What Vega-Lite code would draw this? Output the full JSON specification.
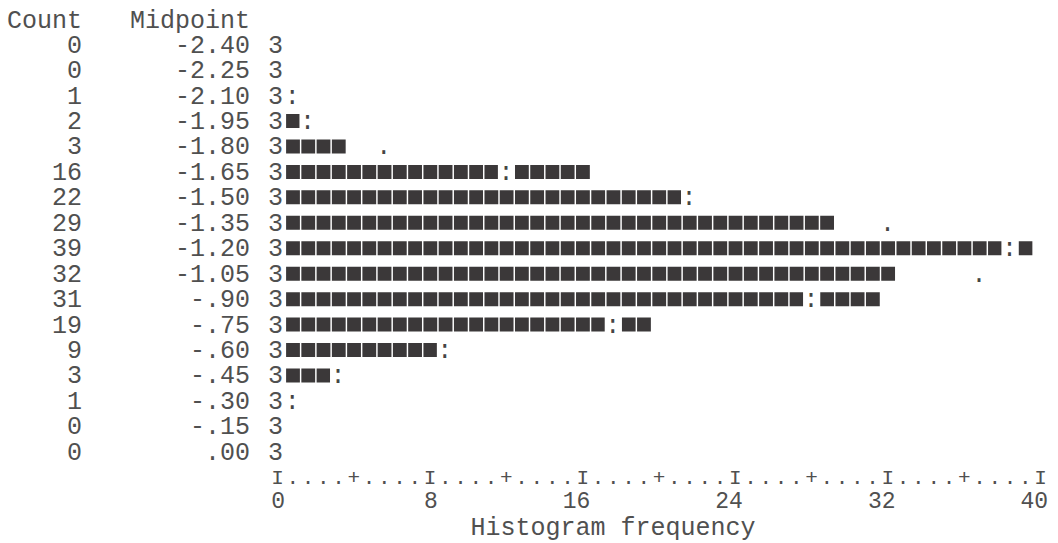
{
  "$schema": "https://vega.github.io/schema/vega-lite/v6.json",
  "background": "white",
  "padding": {"left": 0, "top": 7, "right": 0, "bottom": 6},
  "bounds": "flush",
  "spacing": 27,
  "config": {
    "view": {"stroke": null},
    "text": {"font": "Liberation Mono", "fontSize": 25},
    "axis": {"labelFont": "Liberation Mono", "labelFontSize": 25, "titleFont": "Liberation Mono", "titleFontSize": 25, "titleFontWeight": "normal", "labelColor": "#505050", "titleColor": "#505050", "grid": false, "domain": false, "ticks": false, "tickSize": 0}
  },
  "data": {
    "values": [
      {"Midpoint": "-2.40", "Count": 0, "length": 0, "normal": null, "marker": null},
      {"Midpoint": "-2.25", "Count": 0, "length": 0, "normal": null, "marker": null},
      {"Midpoint": "-2.10", "Count": 1, "length": 0.8, "normal": 0.8, "marker": ":"},
      {"Midpoint": "-1.95", "Count": 2, "length": 1.6, "normal": 1.6, "marker": ":"},
      {"Midpoint": "-1.80", "Count": 3, "length": 3.2, "normal": 5.6, "marker": "."},
      {"Midpoint": "-1.65", "Count": 16, "length": 16, "normal": 12, "marker": ":"},
      {"Midpoint": "-1.50", "Count": 22, "length": 21.6, "normal": 21.6, "marker": ":"},
      {"Midpoint": "-1.35", "Count": 29, "length": 28.8, "normal": 32, "marker": "."},
      {"Midpoint": "-1.20", "Count": 39, "length": 39.2, "normal": 38.4, "marker": ":"},
      {"Midpoint": "-1.05", "Count": 32, "length": 32, "normal": 36.8, "marker": "."},
      {"Midpoint": "-.90", "Count": 31, "length": 31.2, "normal": 28, "marker": ":"},
      {"Midpoint": "-.75", "Count": 19, "length": 19.2, "normal": 17.6, "marker": ":"},
      {"Midpoint": "-.60", "Count": 9, "length": 8.8, "normal": 8.8, "marker": ":"},
      {"Midpoint": "-.45", "Count": 3, "length": 3.2, "normal": 3.2, "marker": ":"},
      {"Midpoint": "-.30", "Count": 1, "length": 0.8, "normal": 0.8, "marker": ":"},
      {"Midpoint": "-.15", "Count": 0, "length": 0, "normal": null, "marker": null},
      {"Midpoint": ".00", "Count": 0, "length": 0, "normal": null, "marker": null}
    ]
  },
  "hconcat": [
    {
      "width": 250,
      "height": 432.5,
      "transform": [{"fold": ["Count", "Midpoint"], "as": ["column", "val"]}],
      "mark": {"type": "text", "align": "right", "baseline": "middle", "color": "#505050"},
      "encoding": {
        "x": {
          "field": "column", "type": "nominal", "bandPosition": 1,
          "scale": {"type": "band", "paddingInner": 0.512, "paddingOuter": 0},
          "axis": {"orient": "top", "title": null, "labelAngle": 0, "labelAlign": "right", "labelBaseline": "middle", "labelOffset": 41, "labelPadding": 13}
        },
        "y": {"field": "Midpoint", "type": "ordinal", "sort": null, "axis": null, "scale": {"type": "band", "paddingInner": 0, "paddingOuter": 0}},
        "text": {"field": "val", "type": "nominal"}
      }
    },
    {
      "width": 763,
      "height": 432.5,
      "encoding": {
        "y": {
          "field": "Midpoint", "type": "ordinal", "sort": null,
          "scale": {"type": "band", "paddingInner": 0, "paddingOuter": 0},
          "axis": {"title": null, "labelExpr": "'3'", "labelAlign": "center", "labelBaseline": "middle", "labelPadding": 2}
        }
      },
      "layer": [
        {
          "mark": {"type": "rule", "color": "#3b3839", "strokeWidth": 14, "strokeDash": [13.8, 1.46], "strokeCap": "butt", "xOffset": 7.63, "x2Offset": 7.63},
          "encoding": {
            "x": {
              "field": "length", "type": "quantitative",
              "scale": {"domain": [0, 40], "nice": false, "zero": true},
              "axis": {
                "orient": "bottom",
                "title": null,
                "values": [0,0.8,1.6,2.4,3.2,4,4.8,5.6,6.4,7.2,8,8.8,9.6,10.4,11.2,12,12.8,13.6,14.4,15.2,16,16.8,17.6,18.4,19.2,20,20.8,21.6,22.4,23.2,24,24.8,25.6,26.4,27.2,28,28.8,29.6,30.4,31.2,32,32.8,33.6,34.4,35.2,36,36.8,37.6,38.4,39.2,40],
                "labelExpr": "round(datum.value/0.8) % 10 == 0 ? 'I' : (round(datum.value/0.8) % 5 == 0 ? '+' : '.')",
                "labelOverlap": false, "labelFlush": false, "labelBound": false, "labelFontSize": 21,
                "labelAngle": 0, "labelAlign": "center", "labelBaseline": "middle", "labelPadding": 12.5
              }
            },
            "x2": {"datum": 0}
          }
        },
        {
          "mark": {"type": "tick", "color": "white", "thickness": 17, "size": 18, "opacity": 1, "xOffset": 0.5},
          "encoding": {"x": {"field": "normal", "type": "quantitative", "axis": null}}
        },
        {
          "mark": {"type": "text", "align": "center", "baseline": "middle", "color": "#454545"},
          "encoding": {
            "x": {
              "field": "normal", "type": "quantitative",
              "axis": {
                "orient": "bottom",
                "title": "Histogram frequency",
                "values": [0, 8, 16, 24, 32, 40],
                "format": "d",
                "labelAngle": 0, "labelAlign": "right", "labelBaseline": "middle", "labelOffset": 7.6, "labelPadding": 35.5, "labelFontSize": 23,
                "labelFlush": false, "labelOverlap": false,
                "titleX": 193, "titleY": 61.5, "titleAlign": "left", "titleBaseline": "middle", "titleAnchor": "start"
              }
            },
            "text": {"field": "marker", "type": "nominal"}
          }
        }
      ],
      "resolve": {"axis": {"x": "independent"}}
    }
  ]
}
